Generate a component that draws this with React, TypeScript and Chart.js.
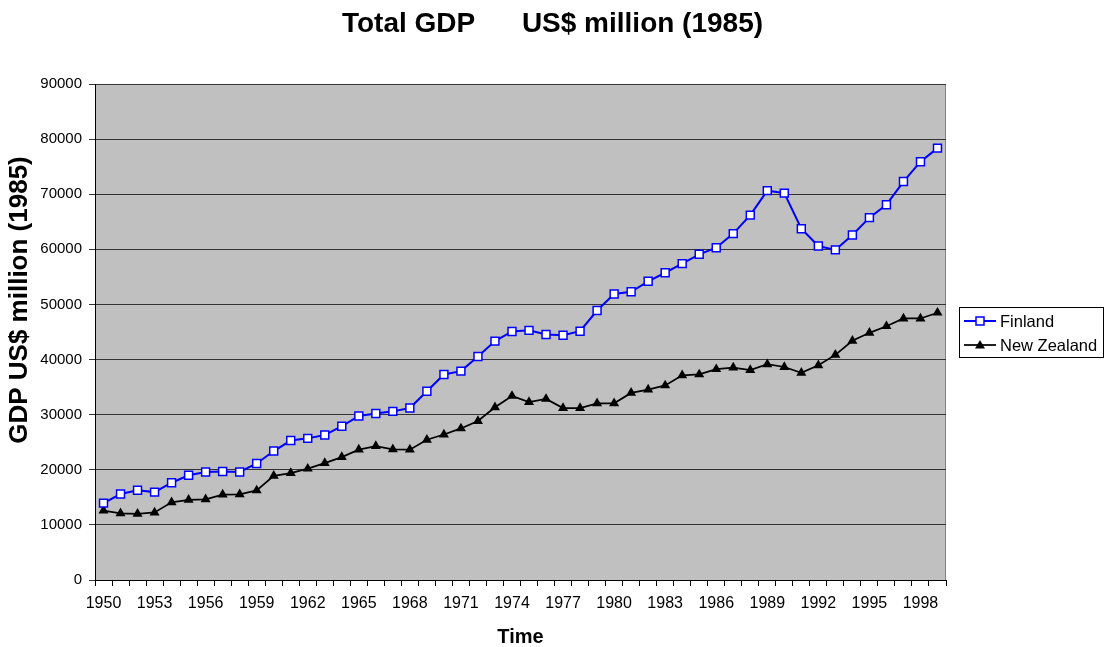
import React, { useEffect, useRef } from "react";
import { Chart, registerables } from "chart.js";
Chart.register(...registerables);

const YEARS = [
  "1950", "1951", "1952", "1953", "1954", "1955", "1956", "1957", "1958", "1959",
  "1960", "1961", "1962", "1963", "1964", "1965", "1966", "1967", "1968", "1969",
  "1970", "1971", "1972", "1973", "1974", "1975", "1976", "1977", "1978", "1979",
  "1980", "1981", "1982", "1983", "1984", "1985", "1986", "1987", "1988", "1989",
  "1990", "1991", "1992", "1993", "1994", "1995", "1996", "1997", "1998", "1999",
];

const FINLAND = [
  13950, 15600, 16300, 15950, 17650, 19000, 19600, 19700, 19600, 21150,
  23400, 25300, 25700, 26300, 27900, 29750, 30200, 30600, 31200, 34250,
  37300, 37900, 40550, 43350, 45100, 45300, 44550, 44400, 45150, 48900,
  51900, 52300, 54200, 55750, 57400, 59100, 60300, 62850, 66200, 70650,
  70200, 63750, 60600, 59900, 62600, 65750, 68100, 72300, 75900, 78360,
];

const NEW_ZEALAND = [
  12600, 12100, 12000, 12250, 14100, 14550, 14650, 15500, 15550, 16250,
  18900, 19400, 20200, 21200, 22300, 23650, 24300, 23700, 23650, 25450,
  26400, 27500, 28850, 31350, 33400, 32300, 32850, 31200, 31200, 32050,
  32050, 33950, 34550, 35300, 37150, 37300, 38250, 38550, 38100, 39150,
  38650, 37600, 38950, 40850, 43400, 44850, 46050, 47450, 47450, 48500,
];

const SERIES_NAMES = ["Finland", "New Zealand"];
const TITLE = "Total GDP      US$ million (1985)";
const Y_TITLE = "GDP US$ million (1985)";
const X_TITLE = "Time";

const FONT = "'Liberation Sans', Arial, Helvetica, sans-serif";
const FIN_COLOR = "#0000FF";
const NZ_COLOR = "#000000";

export default function App() {
  const ref = useRef<HTMLCanvasElement | null>(null);

  useEffect(() => {
    document.body.style.margin = "0";
    const canvas = ref.current;
    if (!canvas) return;

    const plotBg = {
      id: "plotBg",
      beforeDraw(chart: any) {
        const { ctx, chartArea: a } = chart;
        ctx.save();
        ctx.fillStyle = "#C0C0C0";
        ctx.fillRect(a.left, a.top, a.right - a.left, a.bottom - a.top);
        ctx.strokeStyle = "#808080";
        ctx.lineWidth = 1;
        ctx.beginPath();
        ctx.moveTo(a.left, a.top + 0.5);
        ctx.lineTo(a.right - 0.5, a.top + 0.5);
        ctx.lineTo(a.right - 0.5, a.bottom);
        ctx.stroke();
        ctx.restore();
      },
    };

    const texts = {
      id: "texts",
      afterDraw(chart: any) {
        const { ctx } = chart;
        ctx.save();
        ctx.fillStyle = "#000";
        // chart title, centred on the whole canvas
        ctx.font = `bold 28px ${FONT}`;
        ctx.textAlign = "center";
        ctx.textBaseline = "alphabetic";
        ctx.fillText(TITLE, chart.width / 2, 32);
        // y axis title
        ctx.translate(20, 300);
        ctx.rotate(-Math.PI / 2);
        ctx.font = `bold 26px ${FONT}`;
        ctx.textAlign = "center";
        ctx.textBaseline = "middle";
        ctx.fillText(Y_TITLE, 0, 0);
        ctx.restore();
      },
    };

    const boxLegend = {
      id: "boxLegend",
      afterDraw(chart: any) {
        const { ctx } = chart;
        const x0 = 959.5, y0 = 307.5, w = 144, h = 50;
        ctx.save();
        ctx.fillStyle = "#FFFFFF";
        ctx.fillRect(x0, y0, w, h);
        ctx.strokeStyle = "#000";
        ctx.lineWidth = 1;
        ctx.strokeRect(x0, y0, w, h);
        const rows = [321, 345];
        chart.data.datasets.forEach((ds: any, i: number) => {
          const y = rows[i];
          ctx.strokeStyle = ds.borderColor;
          ctx.lineWidth = ds.borderWidth;
          ctx.beginPath();
          ctx.moveTo(964, y);
          ctx.lineTo(996, y);
          ctx.stroke();
          const cx = 980;
          if (i === 0) {
            ctx.fillStyle = "#FFFFFF";
            ctx.fillRect(cx - 4, y - 4, 8, 8);
            ctx.strokeStyle = ds.borderColor;
            ctx.lineWidth = 1.5;
            ctx.strokeRect(cx - 4, y - 4, 8, 8);
          } else {
            ctx.fillStyle = "#000";
            ctx.beginPath();
            ctx.moveTo(cx, y - 5);
            ctx.lineTo(cx + 5, y + 3.5);
            ctx.lineTo(cx - 5, y + 3.5);
            ctx.closePath();
            ctx.fill();
          }
          ctx.fillStyle = "#000";
          ctx.font = `16.5px ${FONT}`;
          ctx.textAlign = "left";
          ctx.textBaseline = "middle";
          ctx.fillText(ds.label, 1000, y + 1);
        });
        ctx.restore();
      },
    };

    const chart = new Chart(canvas, {
      type: "line",
      data: {
        labels: YEARS,
        datasets: [
          {
            label: SERIES_NAMES[0],
            data: FINLAND,
            borderColor: FIN_COLOR,
            borderWidth: 2,
            backgroundColor: "#FFFFFF",
            pointStyle: "rect",
            pointRadius: 5.6,
            pointBorderWidth: 1.5,
            pointBorderColor: FIN_COLOR,
            pointBackgroundColor: "#FFFFFF",
            tension: 0,
          },
          {
            label: SERIES_NAMES[1],
            data: NEW_ZEALAND,
            borderColor: NZ_COLOR,
            borderWidth: 1.75,
            backgroundColor: "#000000",
            pointStyle: "triangle",
            pointRadius: 5.8,
            pointBorderWidth: 0,
            pointBackgroundColor: "#000000",
            tension: 0,
          },
        ],
      },
      options: {
        responsive: false,
        animation: false,
        devicePixelRatio: 1,
        layout: { padding: { left: 0, right: 159, top: 84, bottom: 0 } },
        plugins: {
          legend: { display: false },
          tooltip: { enabled: false },
          title: { display: false },
        },
        scales: {
          x: {
            type: "category",
            offset: true,
            afterFit(scale: any) {
              scale.height = 67;
            },
            grid: {
              display: true,
              drawOnChartArea: false,
              drawTicks: true,
              tickLength: 6,
              color: "#000",
              offset: true,
            },
            border: { display: true, color: "#000", width: 1 },
            ticks: {
              autoSkip: false,
              maxRotation: 0,
              minRotation: 0,
              padding: 8,
              color: "#000",
              font: { family: FONT, size: 16 },
              callback: (_v: any, i: number) => (i % 3 === 0 ? YEARS[i] : ""),
            },
            title: {
              display: true,
              text: X_TITLE,
              color: "#000",
              font: { family: FONT, size: 20, weight: "bold", lineHeight: 1 },
              padding: { top: 0, bottom: 0 },
            },
          },
          y: {
            min: 0,
            max: 90000,
            afterFit(scale: any) {
              scale.width = 95;
            },
            grid: {
              color: "#333",
              lineWidth: 1,
              drawTicks: true,
              tickLength: 6,
            },
            border: { display: true, color: "#000", width: 1 },
            ticks: {
              stepSize: 10000,
              padding: 7,
              color: "#000",
              font: { family: FONT, size: 15 },
              callback: (v: any) => String(v),
            },
          },
        },
      },
      plugins: [plotBg, texts, boxLegend],
    });

    return () => chart.destroy();
  }, []);

  return (
    <div style={{ width: 1105, height: 647, background: "#FFFFFF" }}>
      <canvas ref={ref} width={1105} height={647} style={{ display: "block" }} />
    </div>
  );
}
